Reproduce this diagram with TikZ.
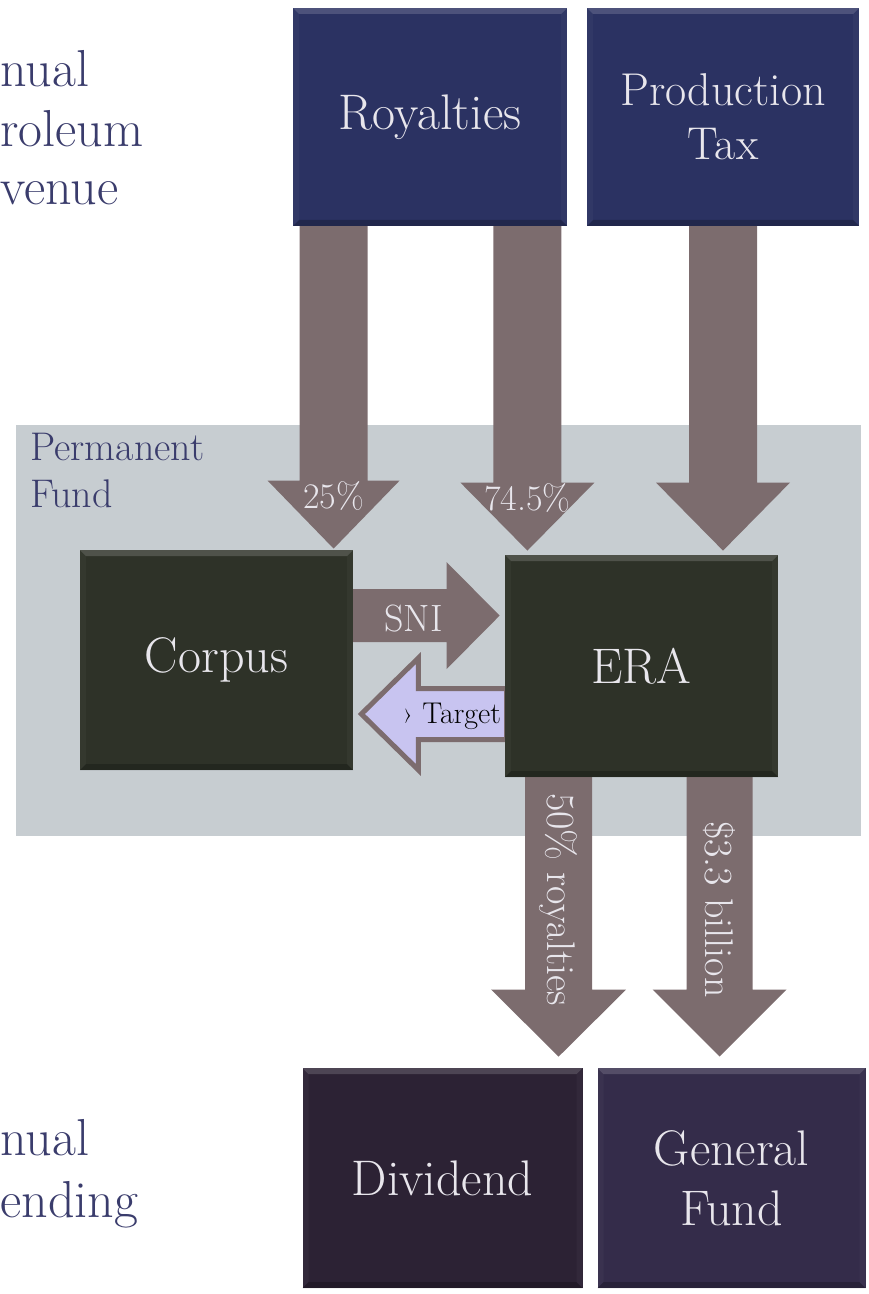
\documentclass[tikz,border=0pt]{standalone}
\usetikzlibrary{calc}

\definecolor{navybox}{HTML}{2B3262}
\definecolor{olivebox}{HTML}{2E3228}
\definecolor{plumbox}{HTML}{2C2234}
\definecolor{violetbox}{HTML}{342C4A}
\definecolor{flowc}{HTML}{7C6C6E}
\definecolor{fundbg}{HTML}{C7CDD1}
\definecolor{lavender}{HTML}{C8C4F0}
\definecolor{sideblue}{HTML}{3A3C6C}
\definecolor{boxtext}{HTML}{E8E6EC}

% vertical block arrow: start, tip, shaft half-width, head half-width, signed head length, style
\newcommand\vflow[6]{%
  \path[#6] ($(#1)+(-#3,0)$) -- ($(#1)+(#3,0)$) -- ($(#2)+(#3,#5)$) -- ($(#2)+(#4,#5)$)
    -- (#2) -- ($(#2)+(-#4,#5)$) -- ($(#2)+(-#3,#5)$) -- cycle;}
% horizontal block arrow: same arguments
\newcommand\hflow[6]{%
  \path[#6] ($(#1)+(0,-#3)$) -- ($(#2)+(#5,-#3)$) -- ($(#2)+(#5,-#4)$)
    -- (#2) -- ($(#2)+(#5,#4)$) -- ($(#2)+(#5,#3)$) -- ($(#1)+(0,#3)$) -- cycle;}

\tikzset{
  bevel/.style={path picture={
    \fill[white,opacity=.16] (path picture bounding box.north west) -- (path picture bounding box.north east)
      -- ([shift={(-3pt,-3pt)}]path picture bounding box.north east) -- ([shift={(3pt,-3pt)}]path picture bounding box.north west) -- cycle;
    \fill[white,opacity=.03] (path picture bounding box.north west) -- ([shift={(3pt,-3pt)}]path picture bounding box.north west)
      -- ([shift={(3pt,3pt)}]path picture bounding box.south west) -- (path picture bounding box.south west) -- cycle;
    \fill[white,opacity=.03] (path picture bounding box.north east) -- ([shift={(-3pt,-3pt)}]path picture bounding box.north east)
      -- ([shift={(-3pt,3pt)}]path picture bounding box.south east) -- (path picture bounding box.south east) -- cycle;
    \fill[black,opacity=.22] (path picture bounding box.south west) -- (path picture bounding box.south east)
      -- ([shift={(-3pt,3pt)}]path picture bounding box.south east) -- ([shift={(3pt,3pt)}]path picture bounding box.south west) -- cycle;
  }},
  box/.style={fill=#1, bevel, inner sep=0pt, align=center, text=boxtext,
    font=\fontsize{25}{29}\selectfont},
  flow/.style={fill=flowc},
  targetflow/.style={fill=lavender, draw=flowc, line width=2.5pt, line join=miter},
  flowlabel/.style={text=boxtext, inner sep=0pt, font=\fontsize{18}{20}\selectfont},
  sidelabel/.style={text=sideblue, anchor=base west, inner sep=0pt, font=\fontsize{26}{30}\selectfont},
  fundlabel/.style={text=sideblue, anchor=base west, inner sep=0pt, font=\fontsize{20}{22}\selectfont},
}

\begin{document}
\begin{tikzpicture}[x=0.5pt,y=-0.5pt]
\useasboundingbox (0,0) rectangle (868,1294);

% side captions
\node[sidelabel] (t1) at (0,87) {nual};
\node[sidelabel] (t2) at (0,147) {roleum};
\node[sidelabel] (t3) at (0,205) {venue};
\node[sidelabel] (b1) at (0,1155) {nual};
\node[sidelabel] (b2) at (0,1217) {ending};

% Permanent Fund area
\fill[fundbg] (16,425) rectangle (861,836);
\node[fundlabel] (pf1) at (30,460) {Permanent};
\node[fundlabel] (pf2) at (30,507) {Fund};

% boxes (placed first so the arrows can refer to them)
\path
  (430,117)   node[box=navybox, minimum width=137pt, minimum height=109pt] (roy) {}
  (723,117)   node[box=navybox, minimum width=136pt, minimum height=109pt] (prod) {}
  (216.5,660) node[box=olivebox, minimum width=136.5pt, minimum height=110pt] (corp) {}
  (641.5,666) node[box=olivebox, minimum width=136.5pt, minimum height=111pt] (era) {}
  (442.5,1178) node[box=plumbox, minimum width=140pt, minimum height=110pt] (div) {}
  (731.5,1178) node[box=violetbox, minimum width=134pt, minimum height=110pt] (gen) {};

% arrow end points
\coordinate (a1s) at ($(roy.south west)+(41,-2)$);
\coordinate (a1t) at ($(a1s |- corp.north)+(0,-1)$);
\coordinate (a2s) at ($(roy.south east)+(-40,-2)$);
\coordinate (a2t) at ($(a2s |- era.north)+(0,-4)$);
\coordinate (a3s) at ($(prod.south)+(0,-2)$);
\coordinate (a3t) at ($(a3s |- era.north)+(0,-4)$);
\coordinate (snis) at ($(corp.north east)+(-2,66)$);
\coordinate (snit) at ($(snis -| era.west)+(-5,0)$);
\coordinate (tgs) at ($(era.west)+(2,48)$);
\coordinate (tgt) at ($(tgs -| corp.east)+(8,0)$);
\coordinate (d1s) at ($(era.south west)+(54,-2)$);
\coordinate (d1t) at ($(d1s |- div.north)+(0,-11)$);
\coordinate (d2s) at ($(era.south west)+(215,-2)$);
\coordinate (d2t) at ($(d2s |- gen.north)+(0,-11)$);

% flows
\vflow{a1s}{a1t}{34}{66}{-68}{flow}
\vflow{a2s}{a2t}{34}{67}{-68}{flow}
\vflow{a3s}{a3t}{34}{67}{-68}{flow}
\hflow{snis}{snit}{26.5}{53.5}{-53}{flow}
\hflow{tgs}{tgt}{25.5}{56}{57}{targetflow}
\vflow{d1s}{d1t}{33.5}{67.5}{-67}{flow}
\vflow{d2s}{d2t}{33}{67}{-67}{flow}

% boxes drawn again on top of the arrow ends, with their labels
\path
  (roy.center)  node[box=navybox, minimum width=137pt, minimum height=109pt] {Royalties}
  (prod.center) node[box=navybox, minimum width=136pt, minimum height=109pt,
                     font=\fontsize{23}{27}\selectfont] {Production\\Tax}
  (corp.center) node[box=olivebox, minimum width=136.5pt, minimum height=110pt] {Corpus}
  (era.center)  node[box=olivebox, minimum width=136.5pt, minimum height=111pt] {ERA}
  (div.center)  node[box=plumbox, minimum width=140pt, minimum height=110pt] {Dividend}
  (gen.center)  node[box=violetbox, minimum width=134pt, minimum height=110pt] {General\\[1pt]Fund};

% flow labels
\node[flowlabel] (l25) at ($(a1t)+(0,-53)$) {25\%};
\node[flowlabel] (l745) at ($(a2t)+(0,-53)$) {74.5\%};
\node[flowlabel, font=\fontsize{19}{21}\selectfont] (lsni) at ($(snis)+(62,3)$) {SNI};
\node[flowlabel, text=black, font=\fontsize{15}{17}\selectfont] (ltg) at ($(tgs)+(-55,2)$) {\guilsinglright\ Target};
\node[flowlabel, rotate=-90, font=\fontsize{20}{22}\selectfont] (lroy) at ($(d1s)+(0,124)$) {50\% royalties};
\node[flowlabel, rotate=-90, font=\fontsize{20}{22}\selectfont] (lbil) at ($(d2s)+(0,134)$) {\$3.3 billion};
\end{tikzpicture}
\end{document}
